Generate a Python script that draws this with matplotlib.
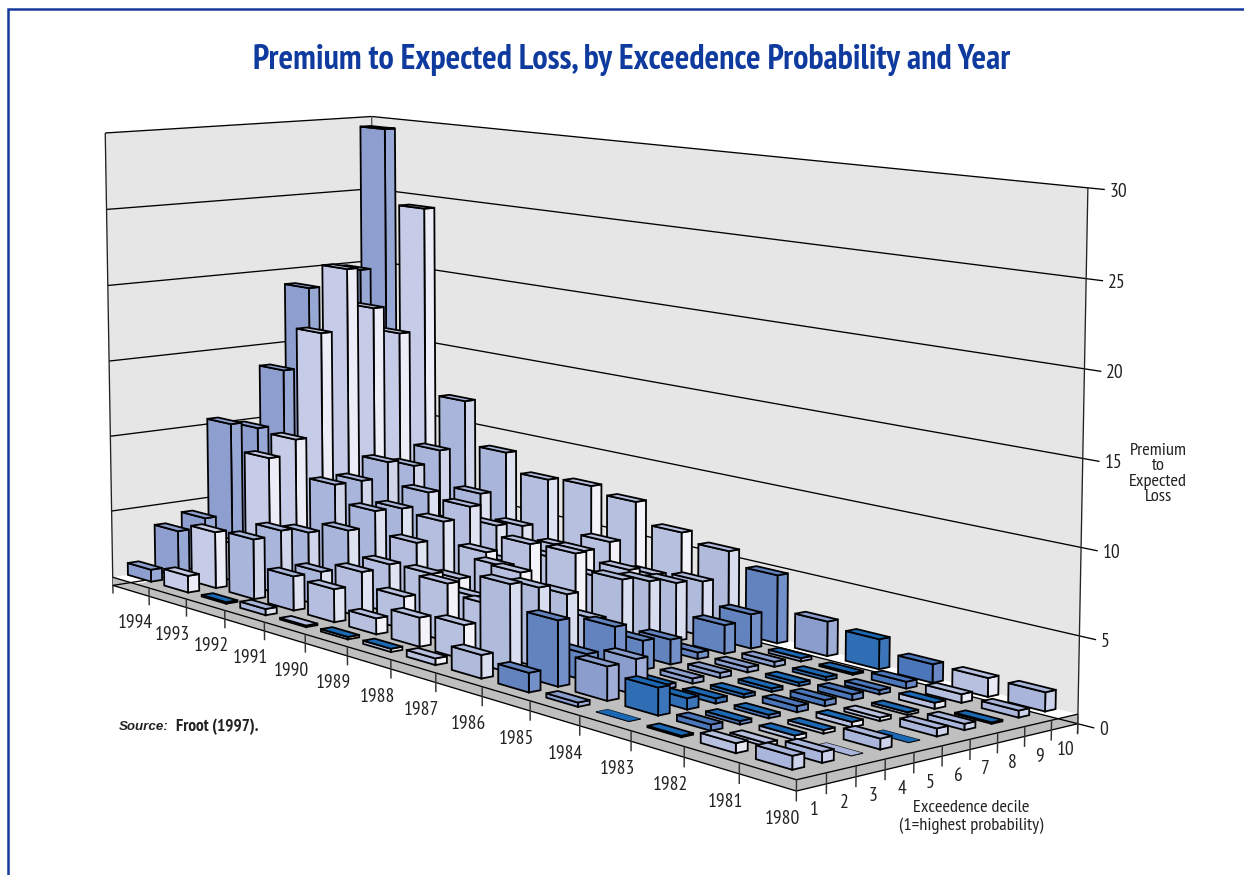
import numpy as np
import matplotlib
matplotlib.use("Agg")
import matplotlib.pyplot as plt
from matplotlib import font_manager as fm
from matplotlib.patches import Polygon

# premium to expected loss, one row per year, deciles 1..10
years = list(range(1980, 1995))
deciles = list(range(1, 11))
z_ticks = [0, 5, 10, 15, 20, 25, 30]
p1980 = [0.75, 0.6, 0.03, 0.6, 0.03, 0.45, 0.35, 0.08, 0.4, 1.1]
p1981 = [0.55, 0.2, 0.25, 0.2, 0.3, 0.2, 0.15, 0.35, 0.5, 1.1]
p1982 = [0.08, 0.35, 0.2, 0.2, 0.35, 0.35, 0.35, 0.25, 0.4, 1.1]
p1983 = [0.03, 1.6, 0.65, 0.3, 0.2, 0.2, 0.2, 0.2, 0.1, 1.8]
p1984 = [0.25, 2.0, 2.1, 0.25, 0.3, 0.3, 0.3, 0.3, 0.2, 2.1]
p1985 = [1.15, 3.9, 1.6, 2.9, 1.75, 1.5, 0.4, 1.75, 2.1, 4.2]
p1986 = [1.4, 5.3, 4.8, 4.1, 2.3, 4.4, 4.0, 3.6, 3.4, 5.0]
p1987 = [0.4, 2.1, 3.0, 4.7, 3.3, 5.3, 3.5, 3.7, 3.1, 5.5]
p1988 = [0.2, 1.8, 3.6, 2.5, 4.1, 5.2, 4.0, 4.2, 4.5, 6.8]
p1989 = [0.15, 1.0, 2.05, 3.2, 2.6, 4.0, 3.0, 3.0, 3.5, 7.2]
p1990 = [0.1, 2.1, 2.9, 3.1, 4.2, 5.3, 6.0, 4.5, 4.2, 7.0]
p1991 = [0.4, 2.2, 2.2, 4.6, 5.6, 5.5, 6.3, 4.0, 5.7, 8.2]
p1992 = [0.1, 3.9, 4.2, 3.8, 6.7, 6.7, 7.7, 7.2, 8.0, 11.1]
p1993 = [1.1, 3.7, 2.5, 8.1, 9.1, 16.0, 20.1, 17.3, 15.4, 23.7]
p1994 = [0.8, 3.1, 3.7, 9.8, 9.3, 13.0, 18.4, 15.0, 19.3, 28.8]
premium = [p1980, p1981, p1982, p1983, p1984, p1985, p1986, p1987,
           p1988, p1989, p1990, p1991, p1992, p1993, p1994]

# front and side colour of each year's bars
front_col = ["#A9B5DA", "#B8C0E0", "#4B76BA", "#2F6DB4", "#8A9DCD", "#6383BF", "#B0BBDC", "#B8C0E0",
             "#B8C0E0", "#B8C0E0", "#B5BEDF", "#A9B5DA", "#A9B5DA", "#C6CCE7", "#8E9FCF"]
side_col = ["#CDD3EA", "#E8EAF5", "#6A88C4", "#3C75BA", "#A0AED7", "#7490C8", "#D8DDEF", "#F3F3F9",
            "#F3F3F9", "#F3F3F9", "#E0E4F2", "#DDE1F0", "#D0D5EA", "#EDEDF7", "#98A8D4"]
# bars whose top is the saturated blue
bright_tops = [(1980, 5), (1980, 8), (1981, 3), (1981, 4), (1981, 5), (1981, 7), (1981, 8),
               (1982, 1), (1982, 3), (1982, 4), (1984, 4), (1984, 9), (1988, 1), (1989, 1), (1992, 1)]
BRIGHT = "#1B68B4"

W, H = 1244, 875
Z_TOP = 0.55  # floor plate thickness, bars stand on its top
BAR_X = (0.36, 1.0)
BAR_Y = (0.55, 0.95)
TICK_OUT = -0.28

# narrow face if there is one, else plain Liberation at a smaller size
have = set(f.name for f in fm.fontManager.ttflist)
narrow = [n for n in ["PT Sans Narrow", "Fira Sans Condensed", "Roboto Condensed"] if n in have]
shrink = 1.0 if narrow else 0.78
plt.rcParams["font.family"] = narrow[:1] + ["Liberation Sans", "DejaVu Sans"]

fig = plt.figure(figsize=(W / 100, H / 100), dpi=100)
ax = fig.add_axes([0, 0, 1, 1])
ax.set_xlim(0, W)
ax.set_ylim(H, 0)
ax.axis("off")

# camera fitted to box corners and axis points (x = years from 1980, y = deciles, z = premium)
view_pts = [
    ((0, 0, Z_TOP), (797, 780)), ((15, 0, Z_TOP), (113, 576)), ((0, 10, Z_TOP), (1078, 713)),
    ((7, 0, Z_TOP), (435, 672)), ((0, 5, Z_TOP), (943, 745)),
    ((15, 0, 30), (106, 133)), ((15, 10, 30), (372, 116)), ((0, 10, 30), (1087, 186)),
    ((15, 0, 15), (108.5, 361.6)), ((0, 10, 15), (1083, 462)), ((0, 10, 5), (1079, 637)),
    ((15, 0, 5), (111, 512)), ((15, 0, 0), (113, 586)), ((0, 10, 0), (1078, 723)),
]
rows = []
for (x, y, z), (u, v) in view_pts:
    rows.append([x, y, z, 1, 0, 0, 0, 0, -u * x, -u * y, -u * z, -u])
    rows.append([0, 0, 0, 0, x, y, z, 1, -v * x, -v * y, -v * z, -v])
cam = np.linalg.svd(np.array(rows, dtype=float))[2][-1].reshape(3, 4)


def project(x, y, z):
    p = cam @ np.array([x, y, z, 1.0])
    return p[0] / p[2], p[1] / p[2]


def face(pts, fc, ec="black", lw=1.0, zo=1):
    ax.add_patch(Polygon([project(*p) for p in pts], closed=True, facecolor=fc, edgecolor=ec,
                         linewidth=lw, joinstyle="miter", zorder=zo))


def line3(a, b, color="black", lw=0.95, zo=2):
    pa, pb = project(*a), project(*b)
    ax.plot([pa[0], pb[0]], [pa[1], pb[1]], color=color, lw=lw, zorder=zo, solid_capstyle="butt")


# walls
face([(15, 0, 0), (15, 10, 0), (15, 10, 30), (15, 0, 30)], "#E6E6E6", "none", 0)
face([(15, 10, 0), (0, 10, 0), (0, 10, 30), (15, 10, 30)], "#E6E6E6", "none", 0)
for z in z_ticks:
    line3((15, 0, z), (15, 10, z))
    line3((15, 10, z), (TICK_OUT, 10, z))
line3((15, 0, 30), (15, 0, -0.55), "#222222")
line3((15, 10, 30), (15, 10, 0), "#555555")
line3((0, 10, 30), (0, 10, -0.55), "#222222")

# floor plate: white top, grey inside the zero lines, grey sides
GREY = "#BFBFBF"
face([(0, 0, Z_TOP), (15, 0, Z_TOP), (15, 10, Z_TOP), (0, 10, Z_TOP)], "white", "none", 0, 2)
face([(0, 0, Z_TOP), (14.37, 0, Z_TOP), (15, 10, 0), (0, 9.25, Z_TOP)], GREY, "none", 0, 2)
face([(0, 0, Z_TOP), (15, 0, Z_TOP), (15, 0, 0), (0, 0, -0.05)], GREY, "none", 0, 2)
face([(0, 0, Z_TOP), (0, 10, Z_TOP), (0, 10, 0), (0, 0, -0.05)], GREY, "none", 0, 2)
for a, b in [((0, 0, Z_TOP), (15, 0, Z_TOP)), ((0, 0, Z_TOP), (0, 10, Z_TOP)),
             ((0, 0, -0.05), (15, 0, 0)), ((0, 0, -0.05), (0, 10, 0)),
             ((15, 0, 0), (15, 10, 0)), ((0, 10, 0), (15, 10, 0))]:
    line3(a, b, zo=3)
for i in range(len(years)):
    line3((i, 0, Z_TOP), (i, 0, -0.6), "#333333", lw=1.05, zo=3)
for j in range(1, 11):
    line3((0, j, Z_TOP), (0, j, -0.6), "#333333", lw=1.05, zo=3)

# bars, far corner first so nearer ones paint over
zo = 10
for i in reversed(range(len(years))):
    for j in reversed(range(len(deciles))):
        h = premium[i][j]
        x0, x1 = i + BAR_X[0], i + BAR_X[1]
        y0, y1 = j + BAR_Y[0], j + BAR_Y[1]
        z0, z1 = Z_TOP, Z_TOP + h
        top = BRIGHT if (years[i], deciles[j]) in bright_tops or years[i] == 1983 else front_col[i]
        lw = 1.3 if h > 0.05 else 0.4
        face([(x0, y0, z0), (x0, y1, z0), (x0, y1, z1), (x0, y0, z1)], side_col[i], lw=lw, zo=zo)
        face([(x0, y0, z0), (x1, y0, z0), (x1, y0, z1), (x0, y0, z1)], front_col[i], lw=lw, zo=zo)
        face([(x0, y0, z1), (x1, y0, z1), (x1, y1, z1), (x0, y1, z1)], top, lw=lw, zo=zo)
        zo += 1

# axis labels
TXT = "#222222"
FS = 14 * shrink
for i, yr in enumerate(years):
    px, py = project(i, 0, -0.6)
    ax.text(px - 14, py + 18, str(yr), ha="center", va="center", fontsize=FS, color=TXT, zorder=500)
for j, d in enumerate(deciles):
    px, py = project(0, j + 1, -0.6)
    ax.text(px - 12, py + 16, str(d), ha="center", va="center", fontsize=FS, color=TXT, zorder=500)
for z in z_ticks:
    px, py = project(TICK_OUT, 10, z)
    ax.text(px + 5, py + 2, str(z), ha="left", va="center", fontsize=FS, color=TXT, zorder=500)

ax.text(1158, 474, "Premium\nto\nExpected\nLoss", ha="center", va="center", fontsize=FS - 0.8,
        color=TXT, linespacing=0.95)
ax.text(971, 817, "Exceedence decile\n(1=highest probability)", ha="center", va="center",
        fontsize=FS - 0.8, color=TXT, linespacing=1.15)
ax.text(119, 727, "Source:", ha="left", va="center", fontsize=9.6, fontweight="bold",
        fontstyle="italic", color=TXT, family="Liberation Sans")
ax.text(176, 727, "Froot (1997).", ha="left", va="center", fontsize=FS - 1.6, fontweight="bold", color=TXT)
ax.text(632, 60, "Premium to Expected Loss, by Exceedence Probability and Year", ha="center", va="center",
        fontsize=24.6 * shrink, fontweight="bold", color="#0F3A9E")

# outer rule
BLUE = "#17399B"
ax.plot([8, 8, W], [H, 9, 9], color=BLUE, lw=1.8, solid_joinstyle="miter", zorder=600)

fig.savefig("out.png", dpi=100)
